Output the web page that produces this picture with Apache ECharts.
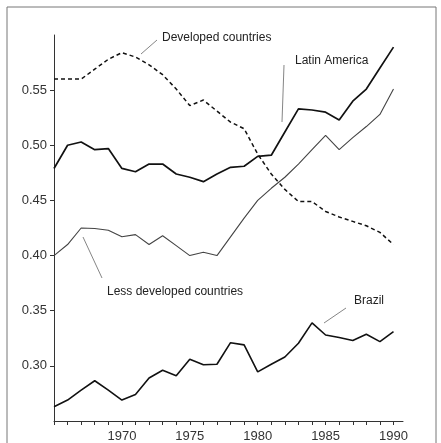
<!DOCTYPE html>
<html>
<head>
<meta charset="utf-8">
<script src="https://cdn.jsdelivr.net/npm/echarts@6/dist/echarts.min.js"></script>
<style>html,body{margin:0;padding:0;background:#fff}#c{width:441px;height:443px}</style>
</head>
<body>
<div id="c"></div>
<script>
var years = [1965,1966,1967,1968,1969,1970,1971,1972,1973,1974,1975,1976,1977,1978,1979,1980,1981,1982,1983,1984,1985,1986,1987,1988,1989,1990];
var developed = [0.560,0.560,0.560,0.569,0.578,0.584,0.580,0.573,0.564,0.551,0.536,0.541,0.531,0.521,0.515,0.492,0.474,0.460,0.449,0.449,0.440,0.435,0.431,0.427,0.421,0.410];
var latinAmerica = [0.479,0.500,0.503,0.496,0.497,0.479,0.476,0.483,0.483,0.474,0.471,0.467,0.474,0.480,0.481,0.490,0.491,0.512,0.533,0.532,0.530,0.523,0.540,0.551,0.570,0.589];
var lessDeveloped = [0.400,0.410,0.425,0.4245,0.423,0.417,0.419,0.410,0.418,0.409,0.400,0.403,0.400,0.417,0.434,0.450,0.461,0.471,0.483,0.496,0.509,0.496,0.507,0.517,0.528,0.551];
var brazil = [0.263,0.269,0.278,0.2865,0.278,0.269,0.274,0.289,0.296,0.291,0.306,0.301,0.3015,0.321,0.319,0.2945,0.3015,0.308,0.3205,0.339,0.328,0.3257,0.323,0.3287,0.322,0.331];
var yTicks = [0.30,0.35,0.40,0.45,0.50,0.55];
var xLabelYears = [1970,1975,1980,1985,1990];

function pairs(vals){ return years.map(function(y,i){ return [y, vals[i]]; }); }

var chart = echarts.init(document.getElementById('c'), null, {renderer:'canvas'});
var font = '"Liberation Sans", "DejaVu Sans", sans-serif';
chart.setOption({
  animation:false,
  backgroundColor:'#fff',
  grid:{left:54, top:35, right:38, bottom:22, containLabel:false},
  xAxis:{
    type:'value', min:1965, max:1990.7, interval:1,
    axisLine:{lineStyle:{color:'#333', width:1}},
    axisTick:{show:true, length:4, lineStyle:{color:'#333'}},
    axisLabel:{
      fontFamily:font, fontSize:13, color:'#333', margin:9, showMaxLabel:false,
      formatter:function(v){ return xLabelYears.indexOf(v) >= 0 ? String(v) : ''; }
    },
    splitLine:{show:false}
  },
  yAxis:{
    type:'value', min:0.25, max:0.60, interval:0.05,
    axisLine:{show:true, lineStyle:{color:'#333', width:1}},
    axisTick:{show:true, length:4, lineStyle:{color:'#333'}, customValues:yTicks},
    axisLabel:{fontFamily:font, fontSize:13, color:'#333', margin:7, customValues:yTicks,
      formatter:function(v){ return v.toFixed(2); }},
    splitLine:{show:false}
  },
  series:[
    {name:'Developed countries', type:'line', data:pairs(developed), symbol:'none',
      lineStyle:{color:'#111', width:1.5, type:[4,3]}},
    {name:'Latin America', type:'line', data:pairs(latinAmerica), symbol:'none',
      lineStyle:{color:'#111', width:1.7}},
    {name:'Less developed countries', type:'line', data:pairs(lessDeveloped), symbol:'none',
      lineStyle:{color:'#444', width:1.1}},
    {name:'Brazil', type:'line', data:pairs(brazil), symbol:'none',
      lineStyle:{color:'#111', width:1.6}}
  ],
  graphic:[
    {type:'rect', shape:{x:7, y:7, width:429, height:445}, style:{fill:'none', stroke:'#777', lineWidth:1}, silent:true},
    {type:'line', shape:{x1:141, y1:54, x2:157, y2:40}, style:{stroke:'#666', lineWidth:0.8}},
    {type:'text', left:162, top:32, style:{text:'Developed countries', font:'12px ' + font, fill:'#222'}},
    {type:'line', shape:{x1:284, y1:65, x2:282, y2:122}, style:{stroke:'#666', lineWidth:0.8}},
    {type:'text', left:295, top:55, style:{text:'Latin America', font:'12px ' + font, fill:'#222'}},
    {type:'line', shape:{x1:83, y1:237, x2:102, y2:278}, style:{stroke:'#666', lineWidth:0.8}},
    {type:'text', left:107, top:286, style:{text:'Less developed countries', font:'12px ' + font, fill:'#222'}},
    {type:'line', shape:{x1:346, y1:308, x2:324, y2:323}, style:{stroke:'#666', lineWidth:0.8}},
    {type:'text', left:354, top:295, style:{text:'Brazil', font:'12px ' + font, fill:'#222'}}
  ]
});
</script>
</body>
</html>
